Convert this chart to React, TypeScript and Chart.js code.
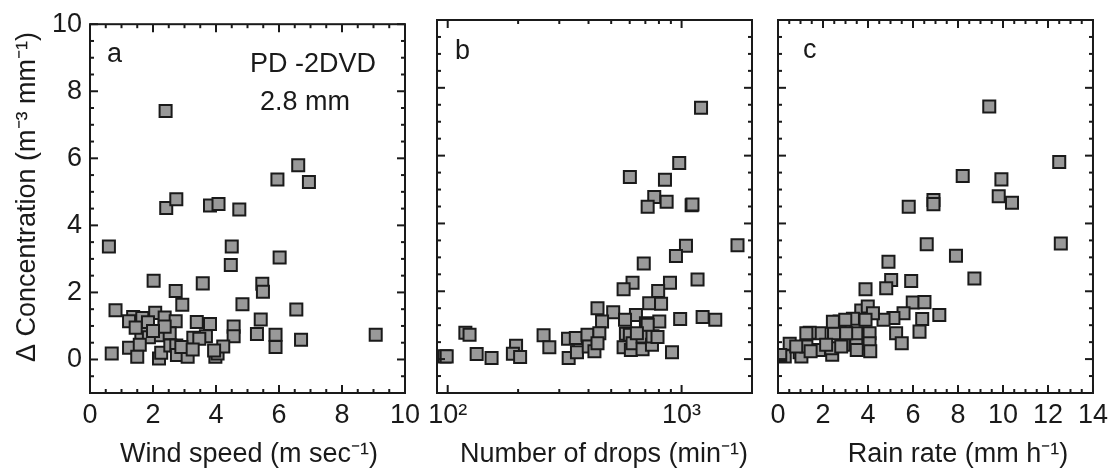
import React, { useEffect, useRef } from 'react';
import { Chart, registerables } from 'chart.js';

Chart.register(...registerables);

const FONT = "'Liberation Sans', Arial, Helvetica, sans-serif";
const INK = '#1a1a1a';

// Panel a: wind speed vs concentration
const windX = [0.6, 2.4, 2.42, 2.74, 3.81, 4.08, 4.74, 6.61, 6.95, 5.95, 6.02, 4.5, 4.47, 2.02, 3.58, 2.72, 5.47, 5.49, 2.93, 4.84, 6.55, 0.81, 1.37, 1.24, 1.66, 2.07, 2.37, 1.84, 2.72, 3.39, 3.81, 4.56, 5.42, 1.63, 2.16, 2.53, 1.87, 3.28, 3.68, 3.47, 4.56, 5.3, 5.89, 6.7, 9.07, 5.89, 0.69, 1.24, 1.58, 1.5, 2.19, 2.26, 2.55, 2.74, 2.76, 3.1, 2.9, 3.26, 3.98, 4.05, 4.23, 3.94, 2.37, 1.45, 2.0];
const windY = [3.37, 7.41, 4.52, 4.78, 4.59, 4.64, 4.47, 5.79, 5.29, 5.37, 3.04, 3.37, 2.82, 2.35, 2.27, 2.04, 2.26, 2.02, 1.63, 1.65, 1.49, 1.47, 1.27, 1.14, 1.24, 1.39, 1.25, 1.11, 1.14, 1.12, 1.06, 0.98, 1.19, 0.76, 0.72, 0.78, 0.66, 0.65, 0.69, 0.62, 0.69, 0.76, 0.74, 0.59, 0.74, 0.37, 0.18, 0.35, 0.44, 0.08, 0.03, 0.2, 0.42, 0.42, 0.13, 0.08, 0.37, 0.3, 0.08, 0.18, 0.39, 0.27, 0.98, 0.95, 0.85];

// Panel b: number of drops vs concentration
const dropsX = [1211, 977, 601, 849, 764, 716, 863, 1104, 1113, 1734, 1044, 946, 689, 617, 565, 1170, 892, 794, 437, 510, 727, 817, 457, 638, 573, 704, 803, 986, 1230, 1393, 119, 124, 97, 99, 133, 154, 196, 190, 204, 257, 272, 327, 329, 353, 357, 396, 401, 424, 445, 437, 565, 578, 601, 607, 617, 681, 681, 747, 751, 716, 910, 644, 789];
const dropsY = [7.41, 5.78, 5.37, 5.29, 4.78, 4.49, 4.64, 4.54, 4.56, 3.36, 3.34, 3.04, 2.82, 2.25, 2.06, 2.35, 2.25, 2.01, 1.5, 1.38, 1.65, 1.63, 1.11, 1.3, 1.16, 1.06, 1.11, 1.18, 1.24, 1.16, 0.78, 0.72, 0.08, 0.08, 0.15, 0.03, 0.39, 0.16, 0.06, 0.7, 0.35, 0.6, 0.03, 0.62, 0.2, 0.72, 0.37, 0.23, 0.76, 0.47, 0.35, 0.75, 0.72, 0.27, 0.47, 0.29, 0.67, 0.42, 0.67, 1.01, 0.2, 0.76, 0.65];

// Panel c: rain rate vs concentration
const rainX = [9.39, 12.5, 8.21, 9.93, 9.81, 10.4, 5.81, 6.91, 6.91, 12.57, 6.61, 7.91, 8.73, 4.91, 5.03, 4.81, 5.92, 3.89, 5.99, 6.51, 7.17, 5.58, 5.13, 4.69, 6.41, 5.25, 5.5, 6.29, 3.7, 3.99, 4.22, 3.89, 3.33, 2.74, 4.07, 4.07, 4.1, 3.48, 3.48, 2.91, 2.49, 2.41, 2.37, 1.82, 1.85, 1.41, 1.26, 0.96, 1.04, 0.52, 0.3, 1.26, 1.45, 3.03, 2.81, 3.5, 2.14, 0.81, 2.99, 2.44, 0.1];
const rainY = [7.45, 5.81, 5.4, 5.3, 4.8, 4.61, 4.49, 4.69, 4.57, 3.41, 3.39, 3.05, 2.38, 2.87, 2.33, 2.09, 2.3, 2.06, 1.67, 1.68, 1.3, 1.35, 1.21, 1.16, 1.18, 0.76, 0.47, 0.81, 1.43, 1.55, 1.35, 1.16, 1.19, 1.11, 0.76, 0.47, 0.23, 0.52, 0.76, 0.42, 0.76, 0.13, 0.32, 0.27, 0.76, 0.78, 0.76, 0.2, 0.08, 0.45, 0.08, 0.37, 0.23, 0.76, 0.37, 0.27, 0.42, 0.37, 1.16, 1.1, 0.12];

// Tick labels
const concTicks = [0, 2, 4, 6, 8, 10];
const concMinor = [-0.5, 0.5, 1, 1.5, 2.5, 3, 3.5, 4.5, 5, 5.5, 6.5, 7, 7.5, 8.5, 9, 9.5];
const windTicks = [0, 2, 4, 6, 8, 10];
const windMinor = [0.5, 1, 1.5, 2.5, 3, 3.5, 4.5, 5, 5.5, 6.5, 7, 7.5, 8.5, 9, 9.5];
const dropsTicks = [100, 1000];
const dropsTickLabels = ['10²', '10³'];
const dropsMinor = [200, 300, 400, 500, 600, 700, 800, 900];
const rainTicks = [0, 2, 4, 6, 8, 10, 12, 14];
const rainMinor = [0.5, 1, 1.5, 2.5, 3, 3.5, 4.5, 5, 5.5, 6.5, 7, 7.5, 8.5, 9, 9.5, 10.5, 11, 11.5, 12.5, 13, 13.5];

const Y_TITLE = 'Δ Concentration (m⁻³ mm⁻¹)';

const W = 1114;
const H = 474;
const TOP = 20;
const BOTTOM = 393;

type Txt = { text: string; x: number; y: number; align?: CanvasTextAlign; rot?: boolean; base?: CanvasTextBaseline };

function framePlugin(cfg: { xMajor: number[]; xMinor: number[]; texts: Txt[] }) {
  return {
    id: 'frameTicks',
    afterDatasetsDraw(chart: any) {
      const { ctx, chartArea: a, scales } = chart;
      const xs = scales.x;
      const ys = scales.y;
      ctx.save();
      ctx.strokeStyle = INK;
      ctx.lineWidth = 2;
      const seg = (x1: number, y1: number, x2: number, y2: number) => {
        ctx.beginPath();
        ctx.moveTo(x1, y1);
        ctx.lineTo(x2, y2);
        ctx.stroke();
      };
      const MAJ = 8;
      const MIN = 4;
      cfg.xMajor.forEach((v) => {
        const p = xs.getPixelForValue(v);
        seg(p, a.bottom, p, a.bottom - MAJ);
        seg(p, a.top, p, a.top + MAJ);
      });
      cfg.xMinor.forEach((v) => {
        const p = xs.getPixelForValue(v);
        seg(p, a.bottom, p, a.bottom - MIN);
        seg(p, a.top, p, a.top + MIN);
      });
      concTicks.forEach((v) => {
        const p = ys.getPixelForValue(v);
        seg(a.left, p, a.left + MAJ, p);
        seg(a.right, p, a.right - MAJ, p);
      });
      concMinor.forEach((v) => {
        const p = ys.getPixelForValue(v);
        seg(a.left, p, a.left + MIN, p);
        seg(a.right, p, a.right - MIN, p);
      });
      ctx.strokeRect(a.left, a.top, a.right - a.left, a.bottom - a.top);
      ctx.fillStyle = INK;
      ctx.font = `27px ${FONT}`;
      cfg.texts.forEach((t) => {
        ctx.save();
        ctx.textAlign = t.align ?? 'left';
        ctx.textBaseline = t.base ?? 'alphabetic';
        ctx.translate(t.x, t.y);
        if (t.rot) ctx.rotate(-Math.PI / 2);
        ctx.fillText(t.text, 0, 0);
        ctx.restore();
      });
      ctx.restore();
    },
  };
}

function makeChart(
  canvas: HTMLCanvasElement,
  opts: {
    xs: number[];
    ys: number[];
    left: number;
    right: number;
    xType: 'linear' | 'logarithmic';
    xMin: number;
    xMax: number;
    xTicks: number[];
    xMinor: number[];
    xLabel: (v: number) => string;
    showY: boolean;
    texts: Txt[];
  }
) {
  const pts = opts.xs.map((x, i) => ({ x, y: opts.ys[i] }));
  const tickFont = { family: FONT, size: 27 };
  return new Chart(canvas, {
    type: 'scatter',
    data: {
      datasets: [
        {
          data: pts,
          pointStyle: 'rect',
          pointRadius: 8.5,
          pointHoverRadius: 8.5,
          pointBackgroundColor: '#999999',
          pointBorderColor: INK,
          pointBorderWidth: 2,
        },
      ],
    },
    options: {
      animation: false,
      responsive: false,
      events: [],
      layout: {
        padding: {
          left: opts.showY ? 0 : opts.left,
          right: W - opts.right,
          top: TOP,
          bottom: 0,
        },
      },
      plugins: { legend: { display: false }, tooltip: { enabled: false } },
      scales: {
        x: {
          type: opts.xType,
          min: opts.xMin,
          max: opts.xMax,
          afterBuildTicks: (s: any) => {
            s.ticks = opts.xTicks.map((v) => ({ value: v }));
          },
          afterFit: (s: any) => {
            s.height = H - BOTTOM;
          },
          grid: { display: false, drawTicks: false },
          border: { display: false },
          ticks: {
            padding: 6,
            color: INK,
            font: tickFont,
            maxRotation: 0,
            autoSkip: false,
            callback: (v: any) => opts.xLabel(Number(v)),
          },
          title: { display: false },
        },
        y: {
          type: 'linear',
          min: -1,
          max: 10,
          display: opts.showY,
          afterBuildTicks: (s: any) => {
            s.ticks = concTicks.map((v) => ({ value: v }));
          },
          afterFit: (s: any) => {
            if (opts.showY) s.width = opts.left;
          },
          grid: { display: false, drawTicks: false },
          border: { display: false },
          ticks: { padding: 8, color: INK, font: tickFont },
          title: { display: false },
        },
      },
    } as any,
    plugins: [framePlugin({ xMajor: opts.xTicks, xMinor: opts.xMinor, texts: opts.texts })],
  });
}

export default function App() {
  const aRef = useRef<HTMLCanvasElement>(null);
  const bRef = useRef<HTMLCanvasElement>(null);
  const cRef = useRef<HTMLCanvasElement>(null);

  useEffect(() => {
    const charts: Chart[] = [];
    if (aRef.current) {
      charts.push(
        makeChart(aRef.current, {
          xs: windX,
          ys: windY,
          left: 90,
          right: 405,
          xType: 'linear',
          xMin: 0,
          xMax: 10,
          xTicks: windTicks,
          xMinor: windMinor,
          xLabel: (v) => String(v),
          showY: true,
          texts: [
            { text: 'a', x: 107, y: 62 },
            { text: 'PD -2DVD', x: 250, y: 72 },
            { text: '2.8 mm', x: 260, y: 110 },
            { text: 'Wind speed (m sec⁻¹)', x: 249, y: 455, align: 'center', base: 'middle' },
            { text: Y_TITLE, x: 28, y: 197, align: 'center', base: 'middle', rot: true },
          ],
        })
      );
    }
    if (bRef.current) {
      charts.push(
        makeChart(bRef.current, {
          xs: dropsX,
          ys: dropsY,
          left: 437,
          right: 752,
          xType: 'logarithmic',
          xMin: 90,
          xMax: 2000,
          xTicks: dropsTicks,
          xMinor: dropsMinor,
          xLabel: (v) => dropsTickLabels[dropsTicks.indexOf(v)] ?? '',
          showY: false,
          texts: [
            { text: 'b', x: 455, y: 59 },
            { text: 'Number of drops (min⁻¹)', x: 604, y: 455, align: 'center', base: 'middle' },
          ],
        })
      );
    }
    if (cRef.current) {
      charts.push(
        makeChart(cRef.current, {
          xs: rainX,
          ys: rainY,
          left: 778,
          right: 1094,
          xType: 'linear',
          xMin: 0,
          xMax: 14,
          xTicks: rainTicks,
          xMinor: rainMinor,
          xLabel: (v) => String(v),
          showY: false,
          texts: [
            { text: 'c', x: 803, y: 58 },
            { text: 'Rain rate (mm h⁻¹)', x: 958, y: 455, align: 'center', base: 'middle' },
          ],
        })
      );
    }
    return () => charts.forEach((c) => c.destroy());
  }, []);

  const cs: React.CSSProperties = { position: 'absolute', left: 0, top: 0, width: W, height: H };
  return (
    <div style={{ position: 'absolute', left: 0, top: 0, width: W, height: H, background: '#fff' }}>
      <canvas ref={aRef} width={W} height={H} style={cs} />
      <canvas ref={bRef} width={W} height={H} style={cs} />
      <canvas ref={cRef} width={W} height={H} style={cs} />
    </div>
  );
}
